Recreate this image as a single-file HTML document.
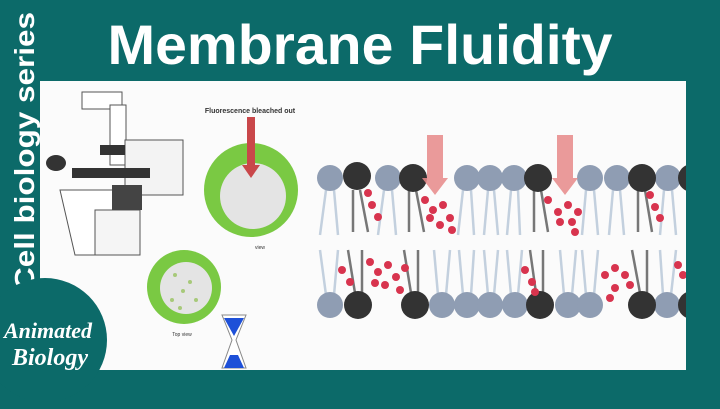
<!DOCTYPE html>
<html><head><meta charset="utf-8"><style>
body{margin:0;width:720px;height:404px;overflow:hidden;background:#0c6a69;font-family:"Liberation Sans",sans-serif}
</style></head><body>
<svg width="720" height="404" viewBox="0 0 720 404" xmlns="http://www.w3.org/2000/svg">
<defs><clipPath id="cp"><rect x="40" y="81" width="646" height="289"/></clipPath></defs>
<rect width="720" height="404" fill="#0c6a69"/>
<rect x="40" y="81" width="646" height="289" fill="#fbfbfb"/>
<text x="360" y="64" text-anchor="middle" fill="#fff" font-size="56" font-weight="bold" textLength="505" lengthAdjust="spacingAndGlyphs">Membrane Fluidity</text>
<text transform="translate(34,290) rotate(-90)" fill="#fff" font-size="28" font-weight="bold" textLength="278" lengthAdjust="spacingAndGlyphs">Cell biology series</text>
<circle cx="45" cy="340" r="62" fill="#0c6a69"/>
<text x="4" y="338" fill="#fff" font-size="22" font-style="italic" font-weight="bold" font-family="Liberation Serif">Animated</text>
<text x="12" y="365" fill="#fff" font-size="24" font-style="italic" font-weight="bold" font-family="Liberation Serif">Biology</text>
<!-- microscope -->
<g stroke="#555" stroke-width="1" fill="#fff">
<rect x="82" y="92" width="40" height="17"/>
<rect x="110" y="105" width="16" height="60"/>
<rect x="125" y="140" width="58" height="55" fill="#f3f3f3"/>
<path d="M60 190 L120 190 L125 255 L75 255 Z"/>
<rect x="95" y="210" width="45" height="45" fill="#f5f5f5"/>
</g>
<rect x="72" y="168" width="78" height="10" fill="#333"/>
<ellipse cx="56" cy="163" rx="10" ry="8" fill="#333"/>
<rect x="100" y="145" width="25" height="10" fill="#333"/>
<rect x="112" y="185" width="30" height="25" fill="#444"/>
<!-- circles -->
<text x="250" y="113" text-anchor="middle" font-size="7" font-weight="bold" fill="#333">Fluorescence bleached out</text>
<circle cx="251" cy="190" r="47" fill="#7ac943"/>
<circle cx="253" cy="196" r="33" fill="#e4e4e4"/>
<rect x="247" y="117" width="8" height="50" fill="#c9474a"/>
<polygon points="242,165 260,165 251,178" fill="#c9474a"/>
<text x="260" y="249" text-anchor="middle" font-size="5" fill="#333">view</text>
<circle cx="184" cy="287" r="37" fill="#7ac943"/>
<circle cx="186" cy="288" r="26" fill="#e4e4e4"/>
<g fill="#a7c97a"><circle cx="175" cy="275" r="2"/><circle cx="190" cy="282" r="2"/><circle cx="183" cy="291" r="2"/><circle cx="172" cy="300" r="2"/><circle cx="196" cy="300" r="2"/><circle cx="180" cy="308" r="2"/></g>
<text x="182" y="336" text-anchor="middle" font-size="5" fill="#333">Top view</text>
<!-- hourglass -->
<path d="M222 315 L246 315 L236 340 L246 368 L222 368 L232 340 Z" fill="#fff" stroke="#888"/>
<path d="M224 318 L244 318 L234 336 Z" fill="#1e50d8"/>
<path d="M224 368 L244 368 L238 355 L230 355 Z" fill="#1e50d8"/>
<!-- membrane -->
<g clip-path="url(#cp)">
<g stroke="#c3d0de" stroke-width="2.5" fill="none">
<path d="M326 190 L320 235 M334 190 L338 235 M384 190 L378 235 M392 190 L396 235 M463 190 L458 235 M471 190 L474 235 M488 190 L484 235 M494 190 L498 235 M511 190 L507 235 M518 190 L520 235 M586 190 L582 235 M594 190 L598 235 M613 190 L609 235 M620 190 L624 235 M664 190 L660 235 M672 190 L676 235"/>
<path d="M326 295 L320 250 M334 295 L338 250 M438 295 L434 250 M446 295 L450 250 M463 295 L459 250 M471 295 L474 250 M488 295 L484 250 M494 295 L498 250 M511 295 L507 250 M518 295 L522 250 M564 295 L560 250 M572 295 L576 250 M586 295 L582 250 M594 295 L598 250 M663 295 L660 250 M671 295 L676 250"/>
</g>
<g stroke="#777" stroke-width="2.5">
<path d="M353 190 L353 232 M360 190 L368 232 M409 190 L409 232 M416 190 L424 232 M534 190 L534 232 M541 190 L548 232 M638 190 L638 232 M645 190 L652 232"/>
<path d="M355 293 L348 250 M362 293 L362 250 M411 293 L404 250 M418 293 L418 250 M536 293 L530 250 M543 293 L543 250 M640 293 L632 250 M647 293 L647 250"/>
</g>
<g fill="#8f9db3">
<circle cx="330" cy="178" r="13"/><circle cx="388" cy="178" r="13"/><circle cx="467" cy="178" r="13"/><circle cx="490" cy="178" r="13"/><circle cx="514" cy="178" r="13"/><circle cx="590" cy="178" r="13"/><circle cx="617" cy="178" r="13"/><circle cx="668" cy="178" r="13"/>
<circle cx="330" cy="305" r="13"/><circle cx="442" cy="305" r="13"/><circle cx="467" cy="305" r="13"/><circle cx="490" cy="305" r="13"/><circle cx="515" cy="305" r="13"/><circle cx="568" cy="305" r="13"/><circle cx="590" cy="305" r="13"/><circle cx="667" cy="305" r="13"/>
</g>
<g fill="#333">
<circle cx="357" cy="176" r="14"/><circle cx="413" cy="178" r="14"/><circle cx="538" cy="178" r="14"/><circle cx="642" cy="178" r="14"/><circle cx="692" cy="178" r="14"/>
<circle cx="358" cy="305" r="14"/><circle cx="415" cy="305" r="14"/><circle cx="540" cy="305" r="14"/><circle cx="642" cy="305" r="14"/><circle cx="692" cy="305" r="14"/>
</g>
<g fill="#d8344e">
<circle cx="368" cy="193" r="4"/><circle cx="372" cy="205" r="4"/><circle cx="378" cy="217" r="4"/>
<circle cx="425" cy="200" r="4"/><circle cx="433" cy="210" r="4"/><circle cx="443" cy="205" r="4"/><circle cx="450" cy="218" r="4"/><circle cx="440" cy="225" r="4"/><circle cx="430" cy="218" r="4"/><circle cx="452" cy="230" r="4"/>
<circle cx="548" cy="200" r="4"/><circle cx="558" cy="212" r="4"/><circle cx="568" cy="205" r="4"/><circle cx="578" cy="212" r="4"/><circle cx="572" cy="222" r="4"/><circle cx="560" cy="222" r="4"/><circle cx="575" cy="232" r="4"/>
<circle cx="650" cy="195" r="4"/><circle cx="655" cy="207" r="4"/><circle cx="660" cy="218" r="4"/>
<circle cx="342" cy="270" r="4"/><circle cx="350" cy="282" r="4"/><circle cx="370" cy="262" r="4"/><circle cx="378" cy="272" r="4"/><circle cx="388" cy="265" r="4"/><circle cx="396" cy="277" r="4"/><circle cx="405" cy="268" r="4"/><circle cx="385" cy="285" r="4"/><circle cx="400" cy="290" r="4"/><circle cx="375" cy="283" r="4"/>
<circle cx="525" cy="270" r="4"/><circle cx="532" cy="282" r="4"/><circle cx="535" cy="292" r="4"/>
<circle cx="605" cy="275" r="4"/><circle cx="615" cy="268" r="4"/><circle cx="625" cy="275" r="4"/><circle cx="630" cy="285" r="4"/><circle cx="615" cy="288" r="4"/><circle cx="610" cy="298" r="4"/>
<circle cx="678" cy="265" r="4"/><circle cx="683" cy="275" r="4"/>
</g>
<g fill="#e88a8a" opacity="0.85">
<rect x="427" y="135" width="16" height="45"/><polygon points="422,178 448,178 435,195"/>
<rect x="557" y="135" width="16" height="45"/><polygon points="552,178 578,178 565,195"/>
</g>
</g>
</svg>
</body></html>
